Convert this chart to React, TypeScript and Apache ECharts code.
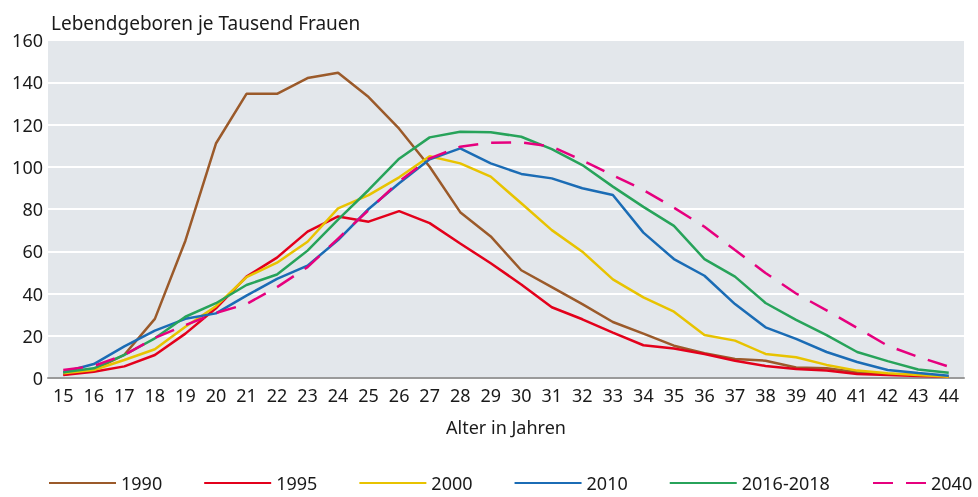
import React, { useEffect, useRef } from "react";
import * as echarts from "echarts";

const ages = ["15","16","17","18","19","20","21","22","23","24","25","26","27","28","29","30","31","32","33","34","35","36","37","38","39","40","41","42","43","44"];

const y1990 = [1.5, 4, 11, 28, 65, 111, 134.5, 134.5, 142, 144.5, 133, 118, 100, 78.5, 67, 51, 43, 35, 26.5, 21, 15.3, 11.7, 9, 8.2, 5, 4.6, 2.7, 1.9, 1.4, 0.6];
const y1995 = [1.4, 3, 5.5, 10.9, 21, 33, 48, 57, 69.3, 76.5, 74, 79, 73.3, 63.7, 54.3, 44.3, 33.5, 27.8, 21.5, 15.5, 14, 11.4, 8.2, 5.7, 4.3, 3.5, 1.9, 1.4, 0.9, 0.6];
const y2000 = [2.2, 3.8, 8.5, 13.6, 24.3, 34, 47.7, 54.6, 64.5, 80.3, 86.6, 95, 105, 101.6, 95.3, 82.7, 70, 59.8, 46.7, 38.2, 31.4, 20.4, 17.7, 11.4, 9.8, 6.2, 3.5, 2.2, 1.4, 0.6];
const y2010 = [2.7, 6.6, 15, 22.4, 28, 30.6, 39, 46.9, 53.2, 65.3, 80, 92.2, 103.5, 108.7, 101.6, 96.6, 94.5, 89.8, 86.6, 68.8, 56.3, 48.4, 35, 24, 18.5, 12.3, 7.6, 3.8, 2.4, 1.1];
const y2016 = [2.7, 4.6, 10.9, 18.8, 29, 35.4, 44, 49, 60.3, 75, 89, 103.8, 113.9, 116.6, 116.3, 114.2, 108.3, 100.8, 90.6, 81, 72, 56.3, 48, 35.5, 27.5, 20.3, 12.3, 8, 4, 2.5];
const y2040 = [3.8, 5.7, 10.9, 19, 25, 30.8, 35, 43, 52.5, 66, 79.5, 93, 104, 109.5, 111.4, 111.6, 109.5, 103, 96, 89, 80.6, 71.6, 60.6, 49.7, 40, 32, 23.7, 15.3, 10, 5.4];

const seriesNames = ["1990", "1995", "2000", "2010", "2016-2018", "2040"];
const seriesColors = ["#9b5a2a", "#e3001b", "#e8c300", "#1b6cb5", "#27a35a", "#e6007e"];
const seriesData = [y1990, y1995, y2000, y2010, y2016, y2040];
const yTicks = { min: 0, max: 160, interval: 20 };

const FONT = "'Noto Sans', sans-serif";
const TXT = "#1a1a1a";

export default function App() {
  const ref = useRef<HTMLDivElement>(null);
  useEffect(() => {
    if (!ref.current) return;
    const chart = echarts.init(ref.current, undefined, { renderer: "svg" });
    const legendCommon = {
      top: 474,
      padding: 0,
      itemHeight: 14,
      itemStyle: { opacity: 0 },
      textStyle: { fontSize: 18, lineHeight: 18, color: TXT, fontFamily: FONT },
    };
    chart.setOption({
      animation: false,
      textStyle: { fontFamily: FONT },
      title: {
        text: "Lebendgeboren je Tausend Frauen",
        left: 46,
        top: 8,
        textStyle: { fontSize: 19, fontWeight: "normal", color: TXT, fontFamily: FONT },
      },
      legend: [
        {
          ...legendCommon,
          data: seriesNames.slice(0, 5),
          left: 48,
          itemWidth: 67,
          itemGap: 41,
        },
        {
          ...legendCommon,
          data: [seriesNames[5]],
          left: 872,
          itemWidth: 53,
        },
      ],
      grid: {
        left: 48,
        right: 14,
        top: 40,
        bottom: 119,
        show: true,
        backgroundColor: "#e3e7eb",
        borderWidth: 0,
        containLabel: false,
      },
      xAxis: {
        type: "category",
        data: ages,
        boundaryGap: true,
        name: "Alter in Jahren",
        nameLocation: "middle",
        nameGap: 40,
        nameTextStyle: { fontSize: 18, color: TXT, fontFamily: FONT },
        axisLine: { show: true, lineStyle: { color: "#9a9a9a", width: 2 } },
        axisTick: { show: false },
        axisLabel: { fontSize: 18, color: TXT, margin: 8, interval: 0, fontFamily: FONT },
      },
      yAxis: {
        type: "value",
        min: yTicks.min,
        max: yTicks.max,
        interval: yTicks.interval,
        axisLine: { show: false },
        axisTick: { show: false },
        axisLabel: { fontSize: 18, color: TXT, margin: 5, fontFamily: FONT },
        splitLine: { show: true, lineStyle: { color: "#ffffff", width: 2 } },
      },
      series: seriesNames.map((name, i) => ({
        name,
        type: "line",
        data: seriesData[i],
        symbol: "none",
        color: seriesColors[i],
        lineStyle: {
          color: seriesColors[i],
          width: 2.5,
          type: i === 5 ? [20, 13] : "solid",
        },
        z: 2 + i,
      })),
    });
    return () => chart.dispose();
  }, []);
  return (
    <div
      ref={ref}
      style={{ position: "fixed", left: 0, top: 0, width: 978, height: 497 }}
    />
  );
}
